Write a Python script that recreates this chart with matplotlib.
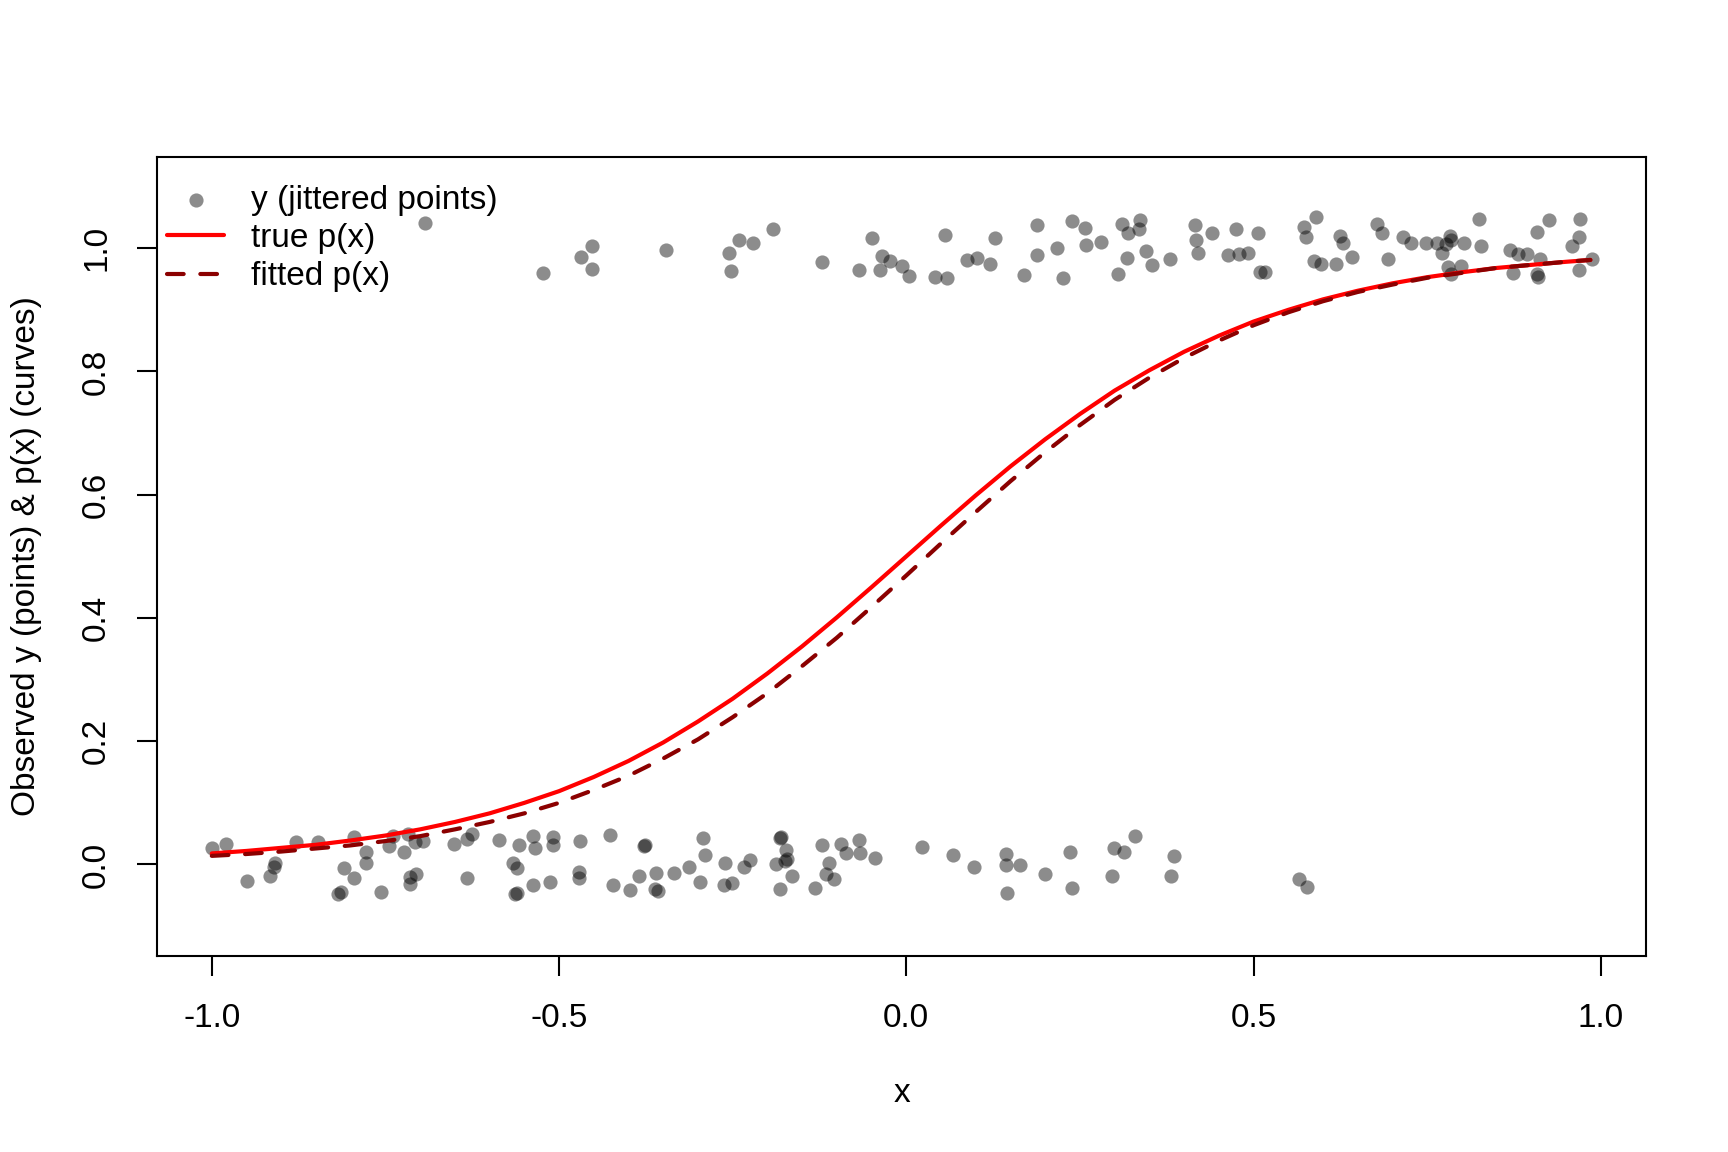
import matplotlib
matplotlib.use("Agg")
import matplotlib.pyplot as plt

# jittered observations around y = 1
x_hi = [-0.693, -0.523, -0.468, -0.452, -0.452, -0.346, -0.256, -0.241, -0.221, -0.192,
        -0.252, -0.122, -0.068, -0.050, -0.035, -0.023, -0.038, -0.006, 0.004, 0.042,
        0.059, 0.056, 0.087, 0.102, 0.121, 0.128, 0.170, 0.188, 0.188, 0.217,
        0.225, 0.238, 0.258, 0.259, 0.281, 0.305, 0.311, 0.319, 0.336, 0.335,
        0.318, 0.345, 0.354, 0.380, 0.416, 0.417, 0.420, 0.440, 0.474, 0.463,
        0.479, 0.492, 0.506, 0.509, 0.516, 0.572, 0.576, 0.590, 0.587, 0.597,
        0.619, 0.624, 0.629, 0.642, 0.678, 0.685, 0.694, 0.715, 0.726, 0.748,
        0.764, 0.772, 0.777, 0.783, 0.785, 0.803, 0.780, 0.784, 0.799, 0.825,
        0.828, 0.869, 0.881, 0.894, 0.874, 0.908, 0.925, 0.912, 0.908, 0.909,
        0.958, 0.968, 0.970, 0.969, 0.987]
y_hi = [1.041, 0.959, 0.986, 1.003, 0.967, 0.997, 0.992, 1.013, 1.009, 1.032,
        0.963, 0.978, 0.965, 1.017, 0.987, 0.980, 0.965, 0.971, 0.955, 0.954,
        0.952, 1.021, 0.981, 0.984, 0.974, 1.017, 0.957, 0.989, 1.038, 1.001,
        0.951, 1.044, 1.033, 1.006, 1.010, 0.958, 1.040, 1.024, 1.046, 1.031,
        0.984, 0.995, 0.972, 0.983, 1.037, 1.014, 0.993, 1.024, 1.032, 0.989,
        0.990, 0.993, 1.025, 0.961, 0.962, 1.034, 1.019, 1.050, 0.980, 0.975,
        0.974, 1.020, 1.009, 0.985, 1.039, 1.025, 0.983, 1.018, 1.009, 1.008,
        1.009, 0.993, 1.007, 1.020, 1.014, 1.009, 0.970, 0.958, 0.971, 1.048,
        1.004, 0.997, 0.990, 0.990, 0.960, 1.027, 1.046, 0.983, 0.958, 0.954,
        1.004, 1.019, 1.047, 0.964, 0.982]

# jittered observations around y = 0
x_lo = [-0.999, -0.979, -0.950, -0.916, -0.909, -0.910, -0.879, -0.847, -0.818, -0.814,
        -0.810, -0.795, -0.795, -0.778, -0.778, -0.756, -0.745, -0.739, -0.723, -0.717,
        -0.715, -0.715, -0.706, -0.707, -0.696, -0.651, -0.632, -0.625, -0.632, -0.587,
        -0.558, -0.538, -0.534, -0.567, -0.561, -0.564, -0.561, -0.537, -0.513, -0.508,
        -0.508,
        -0.470, -0.471, -0.471, -0.426, -0.422, -0.398, -0.385, -0.377, -0.376, -0.362,
        -0.358, -0.361, -0.335, -0.313, -0.293, -0.290, -0.297, -0.263, -0.251, -0.261,
        -0.233, -0.225, -0.182, -0.180, -0.173, -0.172, -0.175, -0.187, -0.165, -0.182,
        -0.131, -0.121, -0.111, -0.116, -0.104, -0.094, -0.087, -0.068, -0.067, -0.045,
        0.022, 0.067, 0.097,
        0.143, 0.144, 0.163, 0.145, 0.199, 0.235, 0.239, 0.299, 0.313, 0.330,
        0.296, 0.381, 0.386, 0.565, 0.577]
y_lo = [0.027, 0.033, -0.027, -0.018, 0.003, -0.004, 0.037, 0.036, -0.048, -0.045,
        -0.006, -0.022, 0.045, 0.021, 0.003, -0.044, 0.030, 0.047, 0.021, 0.049,
        -0.032, -0.020, -0.016, 0.037, 0.038, 0.033, 0.041, 0.049, -0.022, 0.039,
        0.031, 0.046, 0.026, 0.002, -0.005, -0.048, -0.046, -0.034, -0.028, 0.044,
        0.032,
        0.038, -0.012, -0.022, 0.048, -0.034, -0.041, -0.019, 0.030, 0.031, -0.040,
        -0.043, -0.013, -0.013, -0.004, 0.043, 0.015, -0.028, -0.033, -0.030, 0.002,
        -0.004, 0.007, 0.043, 0.044, 0.024, 0.009, 0.005, 0.001, -0.019, -0.040,
        -0.038, 0.031, 0.002, -0.015, -0.023, 0.033, 0.018, 0.039, 0.019, 0.011,
        0.029, 0.016, -0.004,
        0.017, -0.001, -0.001, -0.046, -0.015, 0.021, -0.038, 0.027, 0.020, 0.047,
        -0.019, -0.019, 0.014, -0.024, -0.036]

# curves
curve_x = [-1.0, -0.95, -0.9, -0.85, -0.8, -0.75, -0.7, -0.65, -0.6, -0.55,
           -0.5, -0.45, -0.4, -0.35, -0.3, -0.25, -0.2, -0.15, -0.1, -0.05,
           0.0, 0.05, 0.1, 0.15, 0.2, 0.25, 0.3, 0.35, 0.4, 0.45,
           0.5, 0.55, 0.6, 0.65, 0.7, 0.75, 0.8, 0.85, 0.9, 0.95, 0.985]
p_true = [0.018, 0.022, 0.027, 0.032, 0.039, 0.047, 0.057, 0.069, 0.083, 0.100,
          0.119, 0.142, 0.168, 0.198, 0.232, 0.269, 0.310, 0.354, 0.401, 0.450,
          0.500, 0.550, 0.599, 0.646, 0.690, 0.731, 0.769, 0.802, 0.832, 0.858,
          0.881, 0.900, 0.917, 0.931, 0.943, 0.953, 0.961, 0.968, 0.973, 0.978, 0.981]
p_fit = [0.014, 0.017, 0.021, 0.026, 0.031, 0.038, 0.046, 0.057, 0.069, 0.083,
         0.100, 0.121, 0.144, 0.172, 0.203, 0.239, 0.278, 0.322, 0.368, 0.418,
         0.469, 0.521, 0.572, 0.622, 0.669, 0.713, 0.754, 0.790, 0.822, 0.850,
         0.875, 0.896, 0.914, 0.929, 0.941, 0.952, 0.960, 0.968, 0.973, 0.978, 0.981]

x_ticks = [-1.0, -0.5, 0.0, 0.5, 1.0]
x_tick_labels = ["-1.0", "-0.5", "0.0", "0.5", "1.0"]
y_ticks = [0.0, 0.2, 0.4, 0.6, 0.8, 1.0]
y_tick_labels = ["0.0", "0.2", "0.4", "0.6", "0.8", "1.0"]


def main() -> None:
    plt.rcParams["font.family"] = ["Liberation Sans", "DejaVu Sans"]
    plt.rcParams["font.size"] = 12

    fig = plt.figure(figsize=(8.64, 5.76), dpi=200)
    ax = fig.add_axes([0.0909, 0.1704, 0.8617, 0.6933])

    ax.scatter(x_hi + x_lo, y_hi + y_lo, s=26, c="black", alpha=0.45,
               linewidths=0, label="y (jittered points)", zorder=2)
    ax.plot(curve_x, p_true, color="#FF0000", linewidth=1.5,
            solid_capstyle="round", solid_joinstyle="round",
            label="true p(x)", zorder=3)
    ax.plot(curve_x, p_fit, color="#8B0000", linewidth=1.5, linestyle=(0, (4, 4)),
            dash_capstyle="round", label="fitted p(x)", zorder=4)

    ax.set_xlim(-1.0788, 1.0652)
    ax.set_ylim(-0.148, 1.148)
    ax.set_xticks(x_ticks)
    ax.set_xticklabels(x_tick_labels)
    ax.set_yticks(y_ticks)
    ax.set_yticklabels(y_tick_labels, rotation=90, va="center")
    ax.tick_params(axis="both", length=7.2, width=0.75, labelsize=12)
    ax.tick_params(axis="x", pad=9.7)
    ax.tick_params(axis="y", pad=9)
    for spine in ax.spines.values():
        spine.set_linewidth(0.75)

    ax.set_xlabel("x", labelpad=16)
    ax.set_ylabel("Observed y (points) & p(x) (curves)", labelpad=14)

    ax.legend(loc="upper left", bbox_to_anchor=(0, 0.978), frameon=False,
              borderaxespad=0, borderpad=0.3, handlelength=1.72,
              handletextpad=0.8, labelspacing=0.22, scatterpoints=1, fontsize=12)

    fig.savefig("out.png", dpi=200)
    plt.close(fig)


if __name__ == "__main__":
    main()
